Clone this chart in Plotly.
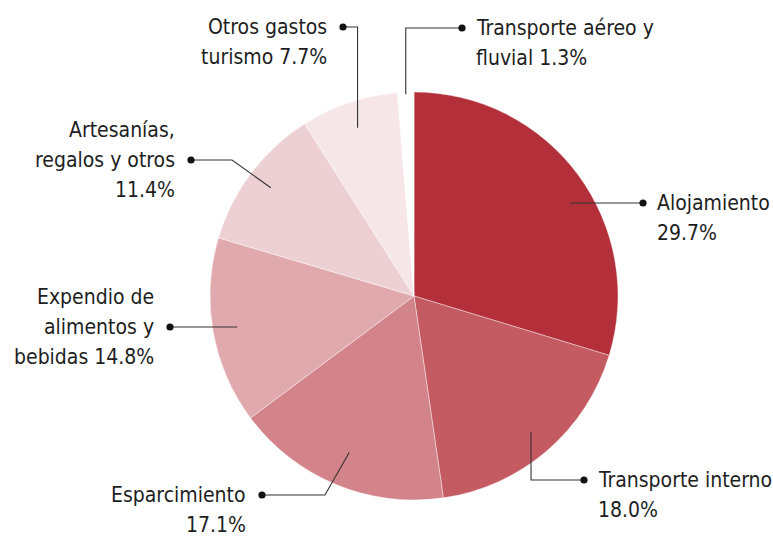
import math
import plotly.graph_objects as go

# ---------------- data ----------------
categories = [
    "Alojamiento",
    "Transporte interno",
    "Esparcimiento",
    "Expendio de alimentos y bebidas",
    "Artesanías, regalos y otros",
    "Otros gastos turismo",
    "Transporte aéreo y fluvial",
]
values = [29.7, 18.0, 17.1, 14.8, 11.4, 7.7, 1.3]
label_lines = [
    ["Alojamiento", "{v}"],
    ["Transporte interno", "{v}"],
    ["Esparcimiento", "{v}"],
    ["Expendio de", "alimentos y", "bebidas {v}"],
    ["Artesanías,", "regalos y otros", "{v}"],
    ["Otros gastos", "turismo {v}"],
    ["Transporte aéreo y", "fluvial {v}"],
]
colors = ["#B3303B", "#C45A62", "#D3848A", "#E0A9AD", "#EDD0D3", "#F6E6E8", "#FFFFFF"]

# ---------------- layout config ----------------
W, H = 773, 536
CX, CY, R = 414, 296, 204
FONT = "DejaVu Sans Condensed, Liberation Sans Narrow, Arial Narrow, sans-serif"
FS = 21
LINE_H = 30
TEXT_COLOR = "#1e1e1e"
LEADER = "#333333"

# per label: dot position, text side, which text line sits at dot level,
# leader style, radius fraction of inner end, elbow x (diagonal style)
label_cfg = [
    dict(dot=(643, 203), side="right", anchor=0, style="h", rf=0.89),
    dict(dot=(584, 480), side="right", anchor=0, style="v", rf=0.88),
    dict(dot=(262, 495), side="left", anchor=0, style="d", rf=0.83, elbow_x=325),
    dict(dot=(170, 327), side="left", anchor=1, style="h", rf=0.88),
    dict(dot=(191, 160), side="left", anchor=1, style="d", rf=0.88, elbow_x=232),
    dict(dot=(343, 27), side="left", anchor=0, style="v", rf=0.87),
    dict(dot=(462, 28), side="right", anchor=0, style="v", rf=0.99),
]


def px(x, y):
    return x / W, 1 - y / H


fig = go.Figure()
fig.add_trace(
    go.Pie(
        labels=categories,
        values=values,
        sort=False,
        direction="clockwise",
        rotation=0,
        marker=dict(colors=colors, line=dict(color="white", width=0.4)),
        textinfo="none",
        hoverinfo="label+percent",
        showlegend=False,
        domain=dict(
            x=[(CX - R) / W, (CX + R) / W],
            y=[1 - (CY + R) / H, 1 - (CY - R) / H],
        ),
    )
)

total = sum(values)
shapes = []
annotations = []
cum = 0.0
for cat, v, lines, cfg in zip(categories, values, label_lines, label_cfg):
    mid = (cum + v / 2) / total * 360.0
    cum += v
    th = math.radians(mid)
    r = cfg["rf"] * R
    dx, dy = cfg["dot"]
    if cfg["style"] == "h":
        yy = dy
        off = abs(yy - CY)
        xx = CX + math.copysign(math.sqrt(max(r * r - off * off, 0)), math.sin(th))
        pts = [(xx, yy), (dx, dy)]
    elif cfg["style"] == "v":
        ix = CX + r * math.sin(th)
        iy = CY - r * math.cos(th)
        pts = [(ix, iy), (ix, dy), (dx, dy)]
    else:
        ix = CX + r * math.sin(th)
        iy = CY - r * math.cos(th)
        pts = [(ix, iy), (cfg["elbow_x"], dy), (dx, dy)]
    path = ""
    for i, (x, y) in enumerate(pts):
        a, b = px(x, y)
        path += ("M" if i == 0 else " L") + f" {a:.5f} {b:.5f}"
    shapes.append(dict(type="path", path=path, xref="paper", yref="paper",
                       line=dict(color=LEADER, width=1.1), layer="above"))
    x0, y0 = px(dx - 3.6, dy + 3.6)
    x1, y1 = px(dx + 3.6, dy - 3.6)
    shapes.append(dict(type="circle", xref="paper", yref="paper",
                       x0=x0, y0=y0, x1=x1, y1=y1,
                       fillcolor="#111111", line=dict(width=0), layer="above"))
    vtxt = f"{v:.1f}%"
    for i, ln in enumerate(lines):
        t = ln.replace("{v}", vtxt)
        ly = dy + (i - cfg["anchor"]) * LINE_H
        if cfg["side"] == "right":
            tx, xa = dx + 12, "left"
        else:
            tx, xa = dx - 14, "right"
        ax, ay = px(tx, ly)
        annotations.append(dict(
            x=ax, y=ay, xref="paper", yref="paper", text=t, showarrow=False,
            xanchor=xa, yanchor="middle",
            font=dict(family=FONT, size=FS, color=TEXT_COLOR),
        ))

fig.update_layout(
    width=W, height=H,
    margin=dict(l=0, r=0, t=0, b=0),
    paper_bgcolor="white", plot_bgcolor="white",
    shapes=shapes, annotations=annotations,
    font=dict(family=FONT, size=FS, color=TEXT_COLOR),
)
fig.write_html(
    "out.html",
    config={"displayModeBar": False},
    post_script="document.body.style.margin='0px';document.body.style.padding='0px';",
)
